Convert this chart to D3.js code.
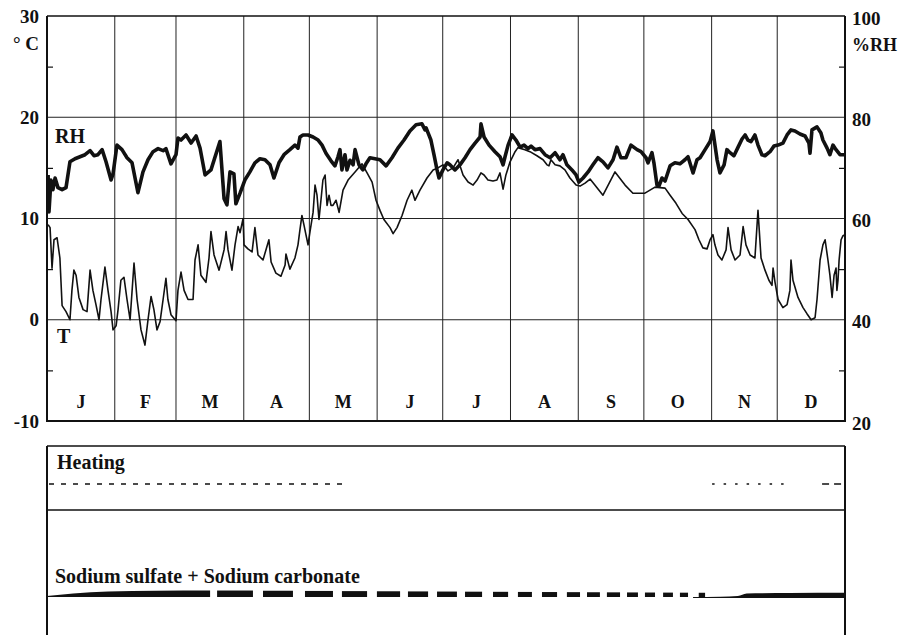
<!DOCTYPE html>
<meta charset="utf-8">
<style>
  body { margin: 0; background: white; }
  text { font-family: "Liberation Serif", serif; font-weight: bold; fill: #111; }
  .grid line { stroke: #222; stroke-width: 1; }
  .frame { stroke: #111; fill: none; }
</style>
<body>
<div id="chart"></div>
<script src="https://cdn.jsdelivr.net/npm/d3@7"></script>
<script>
// day of year -> value
var rhSeries = [[0.5,68.6],[0.9,61.3],[1.8,67.6],[2.7,65.7],[3.7,68.0],[5.0,66.1],[6.9,65.7],[8.7,66.1],[10.5,71.2],[12.8,71.8],[15.1,72.2],[17.4,72.6],[19.7,73.4],[21.5,72.4],[23.3,72.6],[25.2,73.6],[27.0,71.2],[29.3,67.6],[30.2,68.8],[32.0,74.5],[34.3,73.6],[36.6,72.0],[38.9,71.0],[41.6,65.1],[43.9,69.2],[46.2,71.6],[48.5,73.2],[50.8,73.8],[53.1,73.4],[54.4,73.8],[56.7,70.8],[59.0,72.6],[59.9,75.9],[61.3,75.5],[63.6,76.5],[65.9,74.9],[68.2,76.3],[70.0,73.9],[72.3,68.6],[75.0,69.6],[79.1,75.2],[81.0,63.9],[82.3,62.7],[83.7,69.2],[85.5,68.8],[86.4,62.9],[88.3,65.0],[90.5,67.6],[92.8,69.2],[95.1,71.0],[97.4,71.8],[99.7,71.6],[102.0,70.6],[103.8,68.0],[106.1,71.0],[108.4,72.6],[111.1,73.6],[113.4,74.5],[114.8,73.9],[115.7,76.1],[117.1,76.5],[119.4,76.5],[121.7,76.1],[124.0,75.5],[125.8,74.5],[127.6,72.9],[129.9,71.4],[131.7,70.4],[133.1,72.2],[134.0,73.6],[134.9,69.6],[136.3,72.6],[137.2,69.6],[138.6,71.5],[140.0,70.6],[140.9,73.6],[142.7,70.6],[144.5,69.6],[145.9,70.8],[147.7,72.0],[150.0,71.8],[152.3,71.6],[155.1,70.4],[157.8,72.0],[160.5,73.9],[163.3,75.5],[166.0,77.3],[168.8,78.5],[171.5,78.7],[172.9,77.5],[173.4,77.9],[174.3,76.9],[175.6,75.5],[177.0,72.6],[178.4,69.6],[179.3,68.0],[181.1,69.6],[183.0,71.0],[184.3,70.6],[186.6,69.6],[188.9,70.6],[191.2,72.0],[193.5,73.6],[195.8,74.9],[198.1,76.1],[198.5,78.7],[199.9,76.1],[202.2,74.5],[204.9,73.2],[207.2,72.2],[208.6,70.6],[209.5,72.2],[210.9,74.5],[212.7,76.5],[214.5,75.5],[216.4,74.1],[218.2,74.5],[220.0,73.8],[221.4,74.3],[223.2,73.6],[225.5,73.8],[227.8,72.6],[230.1,72.0],[232.4,73.0],[234.6,71.6],[236.0,72.6],[237.8,70.6],[240.1,69.6],[242.0,68.6],[243.3,67.2],[245.2,68.0],[247.5,69.2],[249.7,70.6],[252.0,72.0],[254.3,71.2],[256.6,70.0],[258.9,71.6],[260.7,74.1],[262.5,72.0],[264.8,72.0],[267.1,74.5],[269.9,73.6],[271.7,73.2],[274.0,72.0],[274.9,71.0],[276.7,73.0],[277.6,71.0],[279.0,66.6],[279.9,66.4],[281.3,68.0],[282.7,67.4],[285.0,70.4],[287.2,71.0],[289.5,70.8],[291.8,71.6],[293.2,72.2],[295.5,69.0],[297.3,71.6],[298.7,72.0],[301.0,73.6],[303.3,75.2],[304.6,77.3],[306.5,71.6],[307.8,69.0],[309.7,70.6],[311.0,73.6],[312.4,73.0],[314.2,72.4],[316.1,74.1],[317.9,75.7],[319.3,76.5],[320.6,75.5],[322.0,75.2],[323.8,76.5],[325.2,74.5],[327.0,72.6],[328.4,72.4],[330.7,73.2],[332.5,74.3],[334.4,74.5],[336.6,74.9],[338.5,76.5],[340.3,77.5],[342.1,77.3],[344.4,76.7],[346.7,76.3],[348.5,74.9],[349.0,72.9],[349.9,77.5],[352.2,78.1],[354.0,76.9],[354.9,75.5],[356.8,73.9],[358.1,72.6],[359.5,74.5],[360.9,73.6],[362.7,72.6],[365.0,72.6]];

var tSeries = [[0.5,9.4],[1.4,9.1],[2.3,5.1],[3.2,7.9],[4.6,8.1],[5.9,6.1],[6.9,1.4],[8.7,0.8],[10.5,0.0],[11.4,2.9],[12.3,4.9],[13.3,4.4],[14.6,2.2],[16.5,1.0],[18.3,0.8],[19.7,4.9],[21.0,2.9],[22.4,1.5],[23.8,0.0],[24.7,2.0],[26.5,5.2],[27.9,2.9],[29.3,0.8],[30.2,-1.0],[31.6,-0.6],[32.5,1.0],[33.8,3.9],[35.2,4.2],[36.6,2.0],[38.0,0.0],[39.8,5.6],[41.2,2.0],[43.0,-1.0],[44.8,-2.5],[46.2,0.0],[47.6,2.3],[48.9,1.0],[50.3,-1.0],[51.7,-0.2],[53.1,2.0],[54.4,4.1],[55.3,2.0],[56.7,0.5],[59.0,-0.1],[59.9,2.9],[61.3,4.7],[62.7,2.9],[64.5,2.0],[66.8,2.0],[67.7,5.9],[69.1,7.4],[70.4,4.4],[72.7,3.7],[74.1,6.1],[75.0,8.7],[76.4,6.4],[78.7,4.9],[81.0,6.9],[81.9,8.7],[82.8,6.9],[84.6,4.9],[86.0,7.4],[87.4,9.2],[88.3,8.6],[89.7,10.0],[90.1,7.4],[91.9,7.0],[93.8,6.7],[95.1,9.1],[96.5,6.4],[98.8,5.9],[101.5,7.9],[102.5,5.7],[104.7,4.6],[107.0,4.3],[108.9,5.4],[109.3,6.5],[111.1,5.0],[113.4,6.1],[114.8,7.4],[115.7,8.9],[116.6,10.3],[117.5,9.4],[119.4,7.4],[120.3,8.7],[121.7,10.6],[122.6,13.3],[123.5,12.3],[124.4,9.9],[125.3,11.8],[126.2,13.8],[127.2,14.3],[128.1,11.3],[129.0,12.3],[129.9,11.3],[130.8,11.3],[132.2,11.8],[133.6,10.6],[135.4,12.8],[137.7,13.8],[140.9,14.6],[144.1,15.4],[146.4,14.5],[148.7,13.6],[150.5,11.8],[152.3,10.8],[154.1,9.9],[156.9,9.1],[158.3,8.5],[160.1,9.1],[162.4,10.3],[164.7,11.8],[166.9,12.8],[168.3,11.8],[170.6,12.8],[173.8,14.0],[176.6,14.8],[178.8,15.0],[181.1,15.3],[183.4,14.7],[185.7,15.0],[188.0,15.8],[190.3,14.3],[192.6,13.6],[194.9,13.3],[196.7,13.8],[198.5,14.5],[199.9,14.3],[201.7,13.8],[204.0,13.7],[205.8,13.8],[207.2,14.5],[208.6,12.9],[209.9,14.3],[211.8,15.6],[214.1,16.6],[215.4,17.0],[218.6,16.8],[220.9,16.6],[224.1,16.2],[226.9,15.8],[228.7,15.3],[229.6,15.2],[230.5,15.8],[232.4,15.3],[234.6,15.2],[236.9,14.8],[239.2,14.0],[242.0,13.3],[243.8,13.2],[246.1,13.5],[248.4,13.9],[254.3,12.3],[259.8,14.6],[264.4,13.3],[268.0,12.5],[273.5,12.5],[278.1,13.1],[282.7,13.0],[285.0,12.3],[287.7,11.5],[290.5,10.5],[293.2,9.9],[296.4,8.9],[298.2,7.9],[300.0,7.1],[301.9,7.0],[303.3,7.9],[304.6,8.4],[305.5,7.4],[306.9,6.4],[308.7,5.9],[310.6,6.9],[311.5,9.1],[312.9,6.9],[314.7,5.9],[317.0,6.4],[318.4,9.2],[319.7,7.4],[321.6,6.4],[323.8,6.1],[325.2,10.8],[326.6,6.1],[328.4,4.9],[330.2,3.9],[331.6,3.4],[332.1,5.1],[333.0,3.7],[334.4,2.0],[336.6,1.2],[338.5,1.5],[339.8,2.9],[340.3,5.9],[341.2,3.9],[343.5,2.2],[345.8,1.2],[347.6,0.6],[349.5,0.0],[351.3,0.2],[352.2,2.0],[353.6,5.9],[354.9,7.4],[355.9,7.9],[357.2,5.9],[358.1,4.4],[359.1,2.2],[360.0,4.4],[360.9,5.1],[361.3,2.9],[361.8,3.9],[362.3,5.9],[363.2,7.9],[364.1,8.3],[365.0,8.4]];

var monthStarts = [0, 31, 59, 90, 120, 151, 181, 212, 243, 273, 304, 334, 365];
var monthLabels = ["J", "F", "M", "A", "M", "J", "J", "A", "S", "O", "N", "D"];
var tTicks = [-10, 0, 10, 20, 30];
var rhTicks = [20, 40, 60, 80, 100];

// heating: periods in days
var heatingPeriods = [[0, 135.4], [303.3, 340], [353.6, 365]];

// salt crystallisation: solid start, intermittent dashes, then continuous again
var sodiumSolid = [[0, 1], [12, 3.5], [28, 5.6], [50, 6.3], [74.6, 6.5]];
var sodiumDashes = [[77.8,94.2],[98.8,112.5],[118.0,130.8],[134.9,146.4],[150.9,161.5],[165.1,174.3],[178.4,187.5],[191.2,199.0],[204.0,210.9],[215.4,221.8],[226.4,233.3],[237.8,243.8],[247.0,252.9],[256.1,262.1],[265.3,270.3],[273.5,278.1],[281.8,286.3],[289.5,293.2],[298.1,301.0]];
var sodiumLate = [[295.5, 1], [308, 1.3], [316, 2], [320, 4.6], [340, 5], [365, 5.2]];

var svg = d3.select("#chart").append("svg")
  .attr("width", 903)
  .attr("height", 635);

var plotL = 47, plotR = 845, plotT = 16, plotB = 421;

var x = d3.scaleLinear().domain([0, 365]).range([plotL, plotR]);
var yT = d3.scaleLinear().domain([-10, 30]).range([plotB, plotT]);
var yRH = d3.scaleLinear().domain([20, 100]).range([plotB, plotT]);

// grid
var grid = svg.append("g").attr("class", "grid");
grid.selectAll(".vl")
  .data(monthStarts.slice(1, -1))
  .enter().append("line")
  .attr("x1", d => x(d)).attr("x2", d => x(d))
  .attr("y1", plotT).attr("y2", plotB);
grid.selectAll(".hl")
  .data([0, 10, 20])
  .enter().append("line")
  .attr("x1", plotL).attr("x2", plotR)
  .attr("y1", d => yT(d)).attr("y2", d => yT(d));

// minor inward ticks
svg.append("g")
  .attr("transform", `translate(${plotL},0)`)
  .call(d3.axisRight(yT).tickValues([-5, 5, 15, 25]).tickSize(6).tickFormat(""))
  .call(g => g.select(".domain").remove())
  .call(g => g.selectAll("line").attr("stroke", "#111").attr("stroke-width", 1.2));
svg.append("g")
  .attr("transform", `translate(${plotR},0)`)
  .call(d3.axisLeft(yRH).tickValues([30, 50, 70, 90]).tickSize(6).tickFormat(""))
  .call(g => g.select(".domain").remove())
  .call(g => g.selectAll("line").attr("stroke", "#111").attr("stroke-width", 1.2));

// frame
svg.append("line").attr("class", "frame").attr("x1", plotL).attr("x2", plotR)
  .attr("y1", plotT).attr("y2", plotT).attr("stroke-width", 1.6);
svg.append("line").attr("class", "frame").attr("x1", plotL - 1).attr("x2", plotR + 1)
  .attr("y1", plotB).attr("y2", plotB).attr("stroke-width", 2);
svg.append("line").attr("class", "frame").attr("x1", plotL).attr("x2", plotL)
  .attr("y1", plotT).attr("y2", plotB).attr("stroke-width", 2);
svg.append("line").attr("class", "frame").attr("x1", plotR).attr("x2", plotR)
  .attr("y1", plotT).attr("y2", plotB).attr("stroke-width", 2);

// axis labels (plain hyphen for negatives, as printed)
var plain = d => String(d);
svg.append("g")
  .attr("transform", `translate(${plotL - 8},0)`)
  .call(d3.axisLeft(yT).tickValues(tTicks).tickSize(0).tickPadding(0).tickFormat(plain))
  .call(g => g.select(".domain").remove())
  .call(g => g.selectAll("text").attr("font-size", 19).attr("fill", "#111")
    .style("font-family", "'Liberation Serif', serif").style("font-weight", "bold"));
svg.append("g")
  .attr("transform", `translate(${plotR + 7},2)`)
  .call(d3.axisRight(yRH).tickValues(rhTicks).tickSize(0).tickPadding(0).tickFormat(plain))
  .call(g => g.select(".domain").remove())
  .call(g => g.selectAll("text").attr("font-size", 19).attr("fill", "#111")
    .style("font-family", "'Liberation Serif', serif").style("font-weight", "bold"));

svg.append("text").attr("x", plotL - 8).attr("y", 50).attr("text-anchor", "end")
  .attr("font-size", 19).text("° C");
svg.append("text").attr("x", plotR + 7).attr("y", 51)
  .attr("font-size", 18).text("%RH");

// month letters
svg.selectAll(".month")
  .data(monthLabels)
  .enter().append("text")
  .attr("x", (d, i) => x((monthStarts[i] + monthStarts[i + 1]) / 2))
  .attr("y", 408)
  .attr("text-anchor", "middle")
  .attr("font-size", 18)
  .text(d => d);

// series
var rhLine = d3.line().x(d => x(d[0])).y(d => yRH(d[1]));
var tLine = d3.line().x(d => x(d[0])).y(d => yT(d[1]));

svg.append("path").datum(tSeries)
  .attr("d", tLine)
  .attr("fill", "none").attr("stroke", "#111").attr("stroke-width", 1.6)
  .attr("stroke-linejoin", "round");
svg.append("path").datum(rhSeries)
  .attr("d", rhLine)
  .attr("fill", "none").attr("stroke", "#111").attr("stroke-width", 3.6)
  .attr("stroke-linejoin", "round");

svg.append("text").attr("x", 55).attr("y", 143).attr("font-size", 20).text("RH");
svg.append("text").attr("x", 57).attr("y", 343).attr("font-size", 20).text("T");

// lower panel
var pTop = 446, pMid = 510, pBottom = 640;
svg.append("line").attr("class", "frame").attr("x1", plotL).attr("x2", plotR)
  .attr("y1", pTop).attr("y2", pTop).attr("stroke-width", 1.6);
svg.append("line").attr("class", "frame").attr("x1", plotL).attr("x2", plotR)
  .attr("y1", pMid).attr("y2", pMid).attr("stroke-width", 1.6);
svg.append("line").attr("class", "frame").attr("x1", plotL).attr("x2", plotL)
  .attr("y1", pTop).attr("y2", pBottom).attr("stroke-width", 2);
svg.append("line").attr("class", "frame").attr("x1", plotR).attr("x2", plotR)
  .attr("y1", pTop).attr("y2", pBottom).attr("stroke-width", 2);

svg.append("text").attr("x", 57).attr("y", 469).attr("font-size", 20).text("Heating");

var heatDash = ["5,7", "2.5,9", "7,5"];
svg.selectAll(".heat")
  .data(heatingPeriods)
  .enter().append("line")
  .attr("x1", d => x(d[0]) + 2).attr("x2", d => x(d[1]))
  .attr("y1", 484).attr("y2", 484)
  .attr("stroke", "#111").attr("stroke-width", 1.6)
  .attr("stroke-dasharray", (d, i) => heatDash[i]);

svg.append("text").attr("x", 55).attr("y", 583).attr("font-size", 20)
  .text("Sodium sulfate + Sodium carbonate");

var base = 597;
var sodiumArea = d3.area().curve(d3.curveMonotoneX)
  .x(d => x(d[0])).y0(base).y1(d => base - d[1]);
svg.append("path").datum(sodiumSolid).attr("d", sodiumArea).attr("fill", "#111");

var thick = d3.scaleLinear().domain([75, 301]).range([6.5, 4.2]);
svg.selectAll(".salt")
  .data(sodiumDashes)
  .enter().append("rect")
  .attr("x", d => x(d[0]))
  .attr("width", d => x(d[1]) - x(d[0]))
  .attr("y", d => base - thick(d[0]))
  .attr("height", d => thick(d[0]))
  .attr("fill", "#111");

var lateArea = d3.area().curve(d3.curveMonotoneX)
  .x(d => x(d[0])).y0(base + 1).y1(d => base + 1 - d[1]);
svg.append("path").datum(sodiumLate).attr("d", lateArea).attr("fill", "#111");
</script>
</body>
